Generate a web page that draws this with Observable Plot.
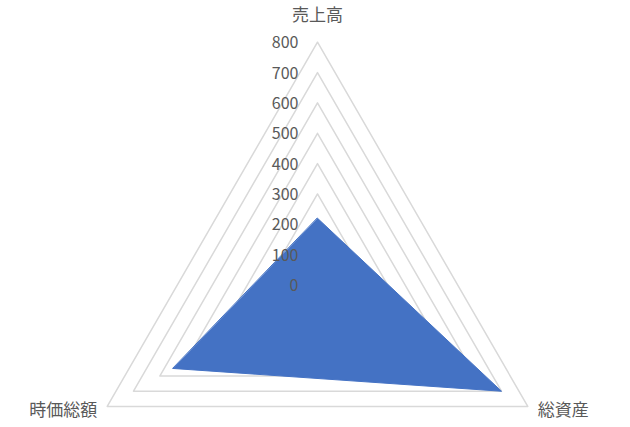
<!DOCTYPE html>
<html>
<head>
<meta charset="utf-8">
<script src="https://cdn.jsdelivr.net/npm/d3@7"></script>
<script src="https://cdn.jsdelivr.net/npm/@observablehq/plot@0.6"></script>
<style>
  html, body { margin: 0; padding: 0; background: #fff; }
</style>
</head>
<body>
<div id="chart"></div>
<script>
const axes = ["売上高", "総資産", "時価総額"];
const values = [220, 700, 550];
const ticks = [0, 100, 200, 300, 400, 500, 600, 700, 800];
const maxTick = 800;

const angle = i => (i * 2 * Math.PI) / axes.length;
const px = (r, i) => r * Math.sin(angle(i));
const py = (r, i) => r * Math.cos(angle(i));

const rings = ticks.filter(t => t > 0).flatMap(t =>
  axes.map((a, i) => ({ level: t, x: px(t, i), y: py(t, i) }))
);
const shape = axes.map((a, i) => ({ axis: a, x: px(values[i], i), y: py(values[i], i) }));
const tickLabels = ticks.map(t => ({ t, x: 0, y: t }));
const axisLabels = axes.map((a, i) => ({ a, i, x: px(maxTick, i), y: py(maxTick, i) }));

// pixel geometry: center (317, 284.5), 100 units = 30.35px
const unit = 30.35 / 100;
const cx = 317, cy = 284.5, W = 630, H = 427;
const grey = "#595959";

const chart = Plot.plot({
  width: W,
  height: H,
  margin: 0,
  style: { background: "#fff", fontFamily: "'Noto Sans CJK JP', 'Noto Sans', sans-serif" },
  x: { domain: [-cx / unit, (W - cx) / unit], range: [0, W], axis: null },
  y: { domain: [-(H - cy) / unit, cy / unit], range: [H, 0], axis: null },
  marks: [
    Plot.line(rings, { x: "x", y: "y", z: "level", curve: "linear-closed", stroke: "#d9d9d9", strokeWidth: 1.5 }),
    Plot.line(shape, { x: "x", y: "y", curve: "linear-closed", fill: "#4472C4", stroke: "#4472C4", strokeWidth: 1 }),
    Plot.text(tickLabels, { x: "x", y: "y", text: d => String(d.t), textAnchor: "end", dx: -19, dy: 1, fontSize: 16, fill: grey }),
    Plot.text(axisLabels.filter(d => d.i === 0), { x: "x", y: "y", text: "a", dy: -27, fontSize: 17, fill: grey }),
    Plot.text(axisLabels.filter(d => d.i === 1), { x: "x", y: "y", text: "a", textAnchor: "start", dx: 10, dy: 4, fontSize: 17, fill: grey }),
    Plot.text(axisLabels.filter(d => d.i === 2), { x: "x", y: "y", text: "a", textAnchor: "end", dx: -10, dy: 4, fontSize: 17, fill: grey })
  ]
});
document.getElementById("chart").appendChild(chart);
</script>
</body>
</html>
